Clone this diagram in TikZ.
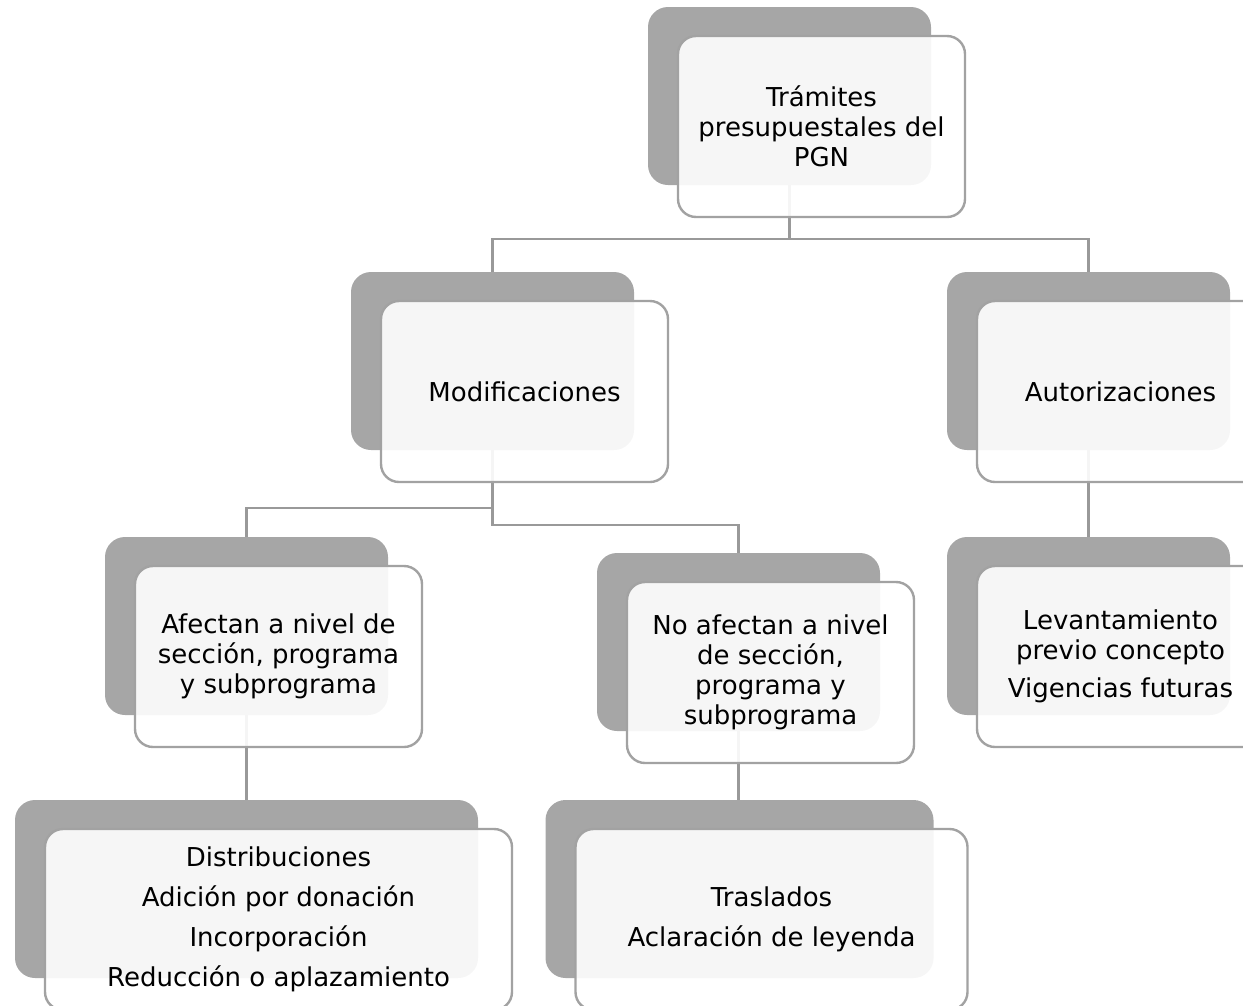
\documentclass[tikz,border=0pt]{standalone}
\usepackage{fontspec}
\setmainfont{DejaVu Sans}
\definecolor{backgray}{HTML}{A6A6A6}
\definecolor{bordergray}{HTML}{A2A2A2}
\definecolor{linegray}{HTML}{999999}
\tikzset{
  backbox/.style={fill=backgray, draw=none, rounded corners=20pt, inner sep=0pt, outer sep=0pt, anchor=north west, minimum height=178pt},
  frontbox/.style={fill=white, fill opacity=0.9, text opacity=1, draw=bordergray, draw opacity=1, line width=2.4pt, rounded corners=18pt, inner sep=0pt, outer sep=0pt, anchor=north west, minimum height=181pt, align=center, font=\fontsize{26}{30}\selectfont},
  conn/.style={draw=linegray, line width=2.4pt}
}
\newcommand\mkback[4]{\node[backbox, minimum width=#4pt] (#1B) at (#2,#3) {};}
\newcommand\mkfront[3]{\node[frontbox, minimum width=#2pt] (#1F) at ([shift={(30,29)}]#1B.north west) {#3};}
\begin{document}
\begin{tikzpicture}[x=1pt, y=-1pt]
\useasboundingbox (0,0) rectangle (1243,1005);
\clip (0,0) rectangle (1243,1005);
% back boxes
\mkback{root}{648}{7}{283}
\mkback{mod}{351}{272}{283}
\mkback{aut}{947}{272}{283}
\mkback{afe}{105}{537}{283}
\mkback{noa}{597}{553}{283}
\mkback{lev}{947}{537}{283}
\mkback{dis}{15}{800}{463}
\mkback{tra}{545.5}{800}{388}
% junction coordinates
\coordinate (j1) at (790,239);
\coordinate (j2) at (492,508);
\coordinate (j3) at (492,525);
% connectors
\draw[conn] (rootB.south) -- (rootB.south |- j1) -| (modB.north);
\draw[conn] (rootB.south |- j1) -| (autB.north);
\draw[conn] (modB.south) -- (modB.south |- j3) -| (noaB.north);
\draw[conn] (modB.south |- j2) -| (afeB.north);
\draw[conn] (autB.south) -- (autB.south |- levB.north);
\draw[conn] (afeB.south) -- (afeB.south |- disB.north);
\draw[conn] (noaB.south) -- (noaB.south |- traB.north);
% front boxes
\mkfront{root}{287}{Trámites\\presupuestales del\\PGN}
\mkfront{mod}{287}{Modificaciones}
\mkfront{aut}{287}{Autorizaciones}
\mkfront{afe}{287}{Afectan a nivel de\\sección, programa\\y subprograma}
\mkfront{noa}{287}{No afectan a nivel\\de sección,\\programa y\\subprograma}
\mkfront{lev}{287}{Levantamiento\\previo concepto\\[8pt]Vigencias futuras}
\mkfront{dis}{467}{Distribuciones\\[10pt]Adición por donación\\[10pt]Incorporación\\[10pt]Reducción o aplazamiento}
\mkfront{tra}{392}{Traslados\\[10pt]Aclaración de leyenda}
\end{tikzpicture}
\end{document}
